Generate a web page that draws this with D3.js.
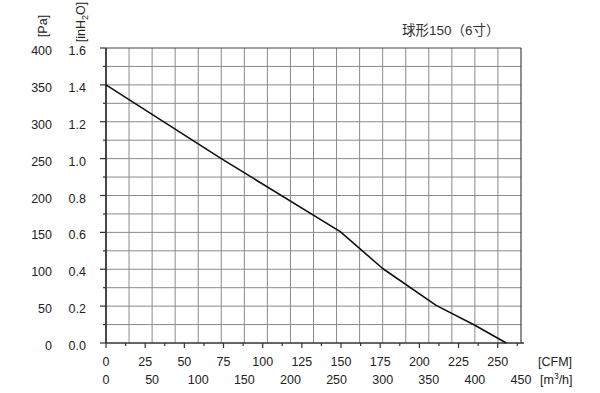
<!DOCTYPE html>
<html>
<head>
<meta charset="utf-8">
<script src="https://cdn.jsdelivr.net/npm/d3@7"></script>
<style>
  body { margin: 0; background: #fff; }
  text { font-family: "Liberation Sans", Arial, "Noto Sans CJK SC", sans-serif; fill: #222; }
</style>
</head>
<body>
<div id="chart"></div>
<script>
// curve: airflow in m3/h, pressure in Pa
var flowM3h = [0, 125, 254, 300, 358, 400, 434];
var pressPa = [350, 250, 151, 101, 51, 24, 0];

var cfmTicks = [0, 25, 50, 75, 100, 125, 150, 175, 200, 225, 250];
var m3hTicks = [0, 50, 100, 150, 200, 250, 300, 350, 400, 450];
var paTicks = [0, 50, 100, 150, 200, 250, 300, 350, 400];
var inTicks = [0.0, 0.2, 0.4, 0.6, 0.8, 1.0, 1.2, 1.4, 1.6];
var title = "球形150（6寸）";

var width = 600, height = 393;
var margin = { top: 48, right: 79, bottom: 50, left: 106 };

var svg = d3.select('#chart')
  .append('svg')
    .attr('width', width)
    .attr('height', height);

var x = d3.scaleLinear().domain([0, 450]).range([margin.left, width - margin.right]);
var xCfm = d3.scaleLinear().domain([0, 450 / 1.699]).range([margin.left, width - margin.right]);
var y = d3.scaleLinear().domain([0, 400]).range([height - margin.bottom, margin.top]);
var yIn = d3.scaleLinear().domain([0, 1.6]).range([height - margin.bottom, margin.top]);

var x0 = x(0), x1 = x(450), y0 = y(0), y1 = y(400);

// grid, every 25 m3/h and every 25 Pa
var g = svg.append('g').attr('stroke', '#8a8a8a').attr('stroke-width', 1);
d3.range(25, 450, 25).forEach(v => {
  g.append('line').attr('x1', x(v)).attr('x2', x(v)).attr('y1', y0).attr('y2', y1);
});
d3.range(25, 400, 25).forEach(v => {
  g.append('line').attr('x1', x0).attr('x2', x1).attr('y1', y(v)).attr('y2', y(v));
});

// frame
svg.append('line').attr('x1', x0).attr('x2', x1).attr('y1', y1).attr('y2', y1)
  .attr('stroke', '#444').attr('stroke-width', 1.2);
svg.append('line').attr('x1', x1).attr('x2', x1).attr('y1', y1).attr('y2', y0)
  .attr('stroke', '#444').attr('stroke-width', 1.2);
svg.append('line').attr('x1', x0).attr('x2', x1 + 3).attr('y1', y0).attr('y2', y0)
  .attr('stroke', '#333').attr('stroke-width', 1.5);
svg.append('line').attr('x1', x0).attr('x2', x0).attr('y1', y1).attr('y2', y0)
  .attr('stroke', '#333').attr('stroke-width', 1.8);

// left ticks
d3.range(0, 425, 25).forEach(v => {
  var len = (v % 50 === 0) ? 6 : 3;
  svg.append('line').attr('x1', x0 - len).attr('x2', x0).attr('y1', y(v)).attr('y2', y(v))
    .attr('stroke', '#333').attr('stroke-width', 1.2);
});
// bottom ticks (CFM)
d3.range(0, 265, 12.5).forEach(v => {
  var len = (v % 25 === 0) ? 5 : 3;
  svg.append('line').attr('x1', xCfm(v)).attr('x2', xCfm(v)).attr('y1', y0).attr('y2', y0 + len)
    .attr('stroke', '#333').attr('stroke-width', 1.2);
});

// y labels
svg.selectAll('.pa').data(paTicks).enter().append('text')
  .attr('x', 52).attr('y', d => y(d) + 7)
  .attr('text-anchor', 'end').style('font-size', '12.5px')
  .text(d => d);
svg.selectAll('.inh').data(inTicks).enter().append('text')
  .attr('x', 86).attr('y', d => yIn(d) + 7)
  .attr('text-anchor', 'end').style('font-size', '12.5px')
  .text(d => d.toFixed(1));

// x labels
svg.selectAll('.cfm').data(cfmTicks).enter().append('text')
  .attr('x', d => xCfm(d)).attr('y', 366)
  .attr('text-anchor', 'middle').style('font-size', '12.5px')
  .text(d => d);
svg.selectAll('.m3h').data(m3hTicks).enter().append('text')
  .attr('x', d => x(d)).attr('y', 384)
  .attr('text-anchor', 'middle').style('font-size', '12.5px')
  .text(d => d);

// unit labels
svg.append('text').attr('transform', 'translate(47,26) rotate(-90)')
  .attr('text-anchor', 'middle').style('font-size', '12.5px').text('[Pa]');
var inh = svg.append('text').attr('transform', 'translate(85,22) rotate(-90)')
  .attr('text-anchor', 'middle').style('font-size', '12.5px');
inh.append('tspan').text('[inH');
inh.append('tspan').attr('dy', 3).style('font-size', '9px').text('2');
inh.append('tspan').attr('dy', -3).text('O]');

svg.append('text').attr('x', 538).attr('y', 366).style('font-size', '12.5px').text('[CFM]');
var m3 = svg.append('text').attr('x', 540).attr('y', 384).style('font-size', '12.5px');
m3.append('tspan').text('[m');
m3.append('tspan').attr('dy', -5).style('font-size', '8.5px').text('3');
m3.append('tspan').attr('dy', 5).text('/h]');

svg.append('text').attr('x', 402).attr('y', 35).style('font-size', '13.5px').style('fill', '#333')
  .text(title);

// curve
var pts = flowM3h.map((f, i) => [f, pressPa[i]]);
svg.append('path')
  .datum(pts)
  .attr('fill', 'none')
  .attr('stroke', '#111')
  .attr('stroke-width', 1.6)
  .attr('stroke-linejoin', 'round')
  .attr('d', d3.line().x(d => x(d[0])).y(d => y(d[1])));
</script>
</body>
</html>
